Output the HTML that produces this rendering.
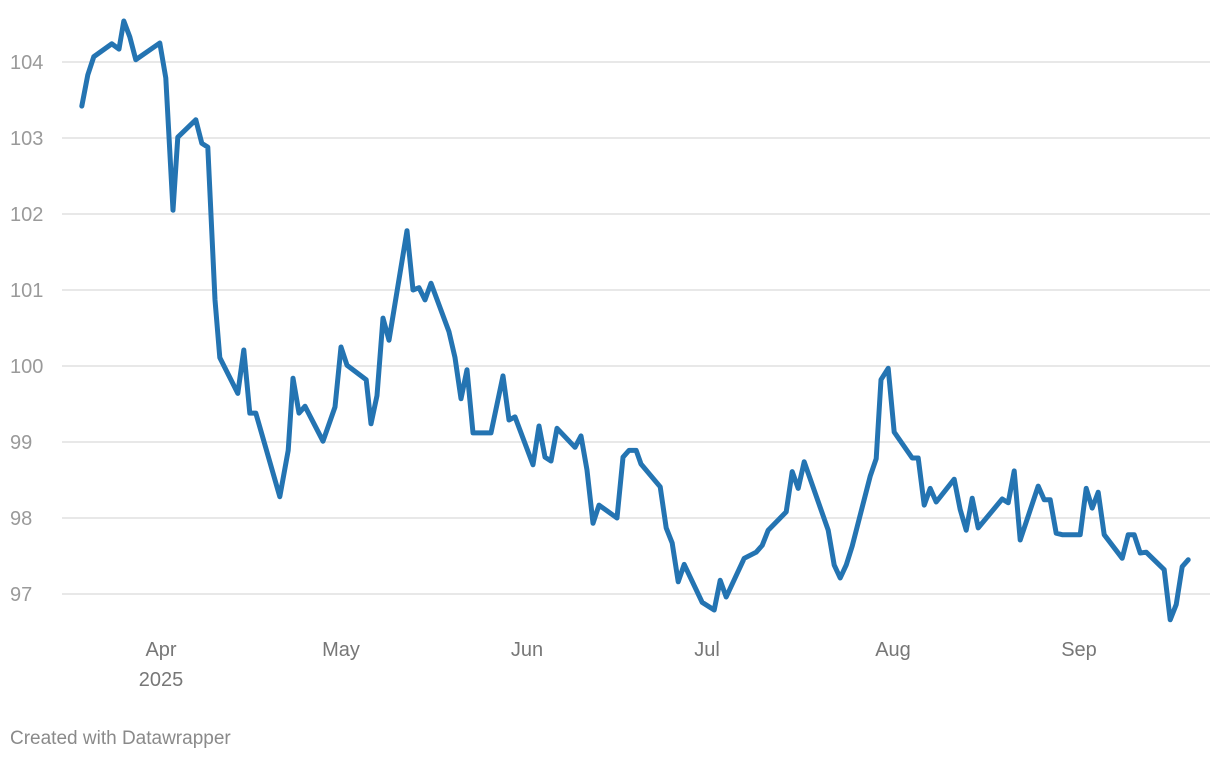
<!DOCTYPE html>
<html><head><meta charset="utf-8"><style>
body{margin:0;background:#fff;width:1220px;height:760px;overflow:hidden;font-family:"Liberation Sans",sans-serif}
</style></head><body>
<svg id="chart" width="1220" height="760" xmlns="http://www.w3.org/2000/svg">
<g id="grid"></g>
<g id="yax"></g>
<g id="xax"></g>
<path id="line" fill="none" stroke="#2474b2" stroke-width="5" stroke-linejoin="round" stroke-linecap="round"></path>
<text x="10" y="744" font-size="19" fill="#8a8a8a">Created with Datawrapper</text>
</svg>
<script>
const yTicks=[97,98,99,100,101,102,103,104];
const monthDays=[0,30,61,91,122,153];
const monthLabels=["Apr","May","Jun","Jul","Aug","Sep"];
const days=[-13.2,-12.2,-11.2,-8.2,-7,-6.2,-5.2,-4.2,-0.2,0.8,2,2.8,5.8,6.8,7.8,9,9.8,12.8,13.8,14.8,15.8,19.8,21.2,22,23,24,27,29,30,31,34.2,35,36,37,38,41,42,43,44,45,48,49,50,51,52,55,57,58,59,62,63,64,65,66,69,70,71,72,73,76,77,78,79.2,80,83.2,84.2,85.2,86.2,87.2,90.2,92.2,93.2,94.2,97.2,99.2,100.2,101.2,104.2,105.2,106.2,107.2,111.2,112.2,113.2,114.2,115.2,118.2,119.2,120,121.2,122.2,125.2,126.2,127.2,128.2,129.2,132.2,133.2,134.2,135.2,136.2,140.2,141.2,142.2,143.2,146.2,147.2,148.2,149.2,150.2,153.2,154.2,155.2,156.2,157.2,160.2,161.2,162.2,163.2,164.2,167.2,168.2,169.2,170.2,171.2];
const values=[103.42,103.83,104.07,104.24,104.17,104.54,104.33,104.03,104.25,103.79,102.05,103.01,103.24,102.93,102.88,100.87,100.11,99.64,100.21,99.38,99.38,98.28,98.89,99.84,99.38,99.47,99.01,99.46,100.25,100.01,99.82,99.24,99.61,100.63,100.34,101.78,101.00,101.03,100.87,101.09,100.45,100.11,99.57,99.95,99.12,99.12,99.87,99.29,99.33,98.70,99.21,98.80,98.75,99.18,98.93,99.08,98.63,97.93,98.17,98.00,98.80,98.89,98.89,98.71,98.41,97.87,97.67,97.16,97.39,96.89,96.79,97.18,96.96,97.47,97.55,97.64,97.84,98.08,98.61,98.39,98.74,97.84,97.38,97.21,97.38,97.63,98.55,98.78,99.82,99.97,99.13,98.79,98.79,98.17,98.39,98.21,98.51,98.11,97.84,98.26,97.87,98.25,98.20,98.62,97.71,98.42,98.24,98.24,97.80,97.78,97.78,98.39,98.13,98.34,97.78,97.47,97.78,97.78,97.54,97.55,97.32,96.66,96.86,97.36,97.45];
const NS="http://www.w3.org/2000/svg";
const xS=d=>161+d*6.0;
const yS=v=>62+(104-v)*76;
const grid=document.getElementById('grid'),yax=document.getElementById('yax'),xax=document.getElementById('xax');
yTicks.forEach(t=>{
  const l=document.createElementNS(NS,'line');
  
  
  l.setAttribute('x1',62);l.setAttribute('x2',1210);l.setAttribute('y1',yS(t));l.setAttribute('y2',yS(t));
  l.setAttribute('stroke','#e1e1e1');l.setAttribute('stroke-width','1.5');
  grid.appendChild(l);
  const tx=document.createElementNS(NS,'text');
  
  
  tx.setAttribute('x',10);tx.setAttribute('y',yS(t)+7);tx.setAttribute('font-size','20');tx.setAttribute('fill','#9a9a9a');
  tx.textContent=t;yax.appendChild(tx);
});
monthDays.forEach((d,i)=>{
  const tx=document.createElementNS(NS,'text');
  
  
  tx.setAttribute('x',xS(d));tx.setAttribute('y',656);tx.setAttribute('font-size','20');tx.setAttribute('fill','#777');tx.setAttribute('text-anchor','middle');
  tx.textContent=monthLabels[i];xax.appendChild(tx);
});
const yr=document.createElementNS(NS,'text');


yr.setAttribute('x',xS(0));yr.setAttribute('y',686);yr.setAttribute('font-size','20');yr.setAttribute('fill','#777');yr.setAttribute('text-anchor','middle');
yr.textContent='2025';xax.appendChild(yr);
document.getElementById('line').setAttribute('d',days.map((d,i)=>(i?'L':'M')+xS(d).toFixed(1)+','+yS(values[i]).toFixed(1)).join(''));
</script>
</body></html>
